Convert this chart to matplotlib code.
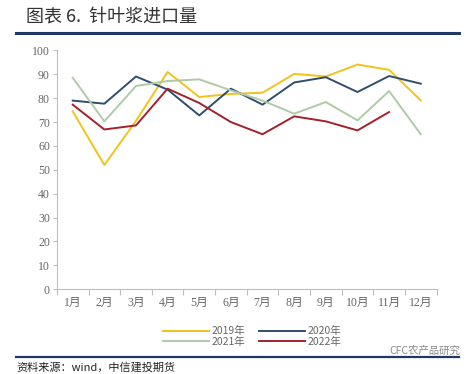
import matplotlib
matplotlib.use("Agg")
import matplotlib.pyplot as plt
from matplotlib.ticker import FixedLocator

months = ["1月", "2月", "3月", "4月", "5月", "6月", "7月", "8月", "9月", "10月", "11月", "12月"]
s2019 = [74.5, 52.0, 70.5, 91.0, 80.5, 81.8, 82.3, 90.2, 89.1, 94.1, 91.9, 79.1]
s2020 = [79.0, 77.7, 89.1, 83.6, 72.8, 84.0, 77.3, 86.6, 88.8, 82.6, 89.3, 86.1]
s2021 = [88.6, 70.3, 85.1, 87.2, 87.9, 83.3, 79.0, 73.5, 78.4, 70.7, 83.0, 64.9]
s2022 = [77.3, 66.9, 68.6, 84.0, 78.0, 70.0, 64.9, 72.4, 70.3, 66.5, 74.2]
labels = ["2019年", "2020年", "2021年", "2022年"]
colors = ["#F2C318", "#2F4E6E", "#AECBA6", "#A3212A"]
yticks = [0, 10, 20, 30, 40, 50, 60, 70, 80, 90, 100]

serif = ["Liberation Serif", "Noto Sans CJK SC"]
cjk = ["Noto Sans CJK SC", "DejaVu Sans"]

fig = plt.figure(figsize=(4.74, 3.74), dpi=100)
ax = fig.add_axes([0.120, 0.227, 0.801, 0.638])

x = list(range(len(months)))
series = [s2019, s2020, s2021, s2022]
handles = []
for s, c, lab in zip(series, colors, labels):
    h, = ax.plot(x[:len(s)], s, color=c, lw=1.4, label=lab)
    handles.append(h)

ax.set_xlim(-0.5, 11.5)
ax.set_ylim(0, 100)
ax.set_yticks(yticks)
ax.set_xticks(x)
ax.set_xticklabels(months)
ax.xaxis.set_minor_locator(FixedLocator([i + 0.5 for i in range(-1, 12)]))
ax.tick_params(axis="x", which="major", length=0, pad=6)
ax.tick_params(axis="x", which="minor", length=4, color="#BFBFBF", width=0.8)
ax.tick_params(axis="y", length=3, color="#BFBFBF", width=0.8, pad=2)
for lab in ax.get_xticklabels() + ax.get_yticklabels():
    lab.set_family(serif)
    lab.set_fontsize(8.5)
    lab.set_color("#666666")
for sp in ["top", "right"]:
    ax.spines[sp].set_visible(False)
for sp in ["left", "bottom"]:
    ax.spines[sp].set_color("#BFBFBF")
    ax.spines[sp].set_linewidth(0.8)

order = [0, 2, 1, 3]
leg = fig.legend(handles=[handles[i] for i in order],
                 labels=[labels[i] for i in order], ncol=2, loc="center",
                 bbox_to_anchor=(0.532, 0.10),
                 frameon=False, handlelength=4.4, columnspacing=1.3, handletextpad=0.3,
                 labelspacing=0.05, prop={"family": cjk, "size": 7.5})
for t in leg.get_texts():
    t.set_color("#666666")

# title
fig.text(0.055, 0.955, "图表 6.  针叶浆进口量", family=cjk, fontsize=13,
         color="#333333", va="center", ha="left")
# header and footer rules
fig.add_artist(plt.Line2D([0.034, 0.968], [0.912, 0.912], color="#1F3864", lw=2.2,
                          transform=fig.transFigure))
fig.add_artist(plt.Line2D([0.034, 0.968], [0.046, 0.046], color="#1F3864", lw=1.6,
                          transform=fig.transFigure))
fig.text(0.034, 0.018, "资料来源：wind，中信建投期货", family=cjk, fontsize=8,
         style="italic", color="#222222", va="center", ha="left")
fig.text(0.97, 0.062, "CFC农产品研究", family=cjk, fontsize=7.5,
         color="#8A8A8A", va="center", ha="right")

fig.savefig("out.png", dpi=100)
